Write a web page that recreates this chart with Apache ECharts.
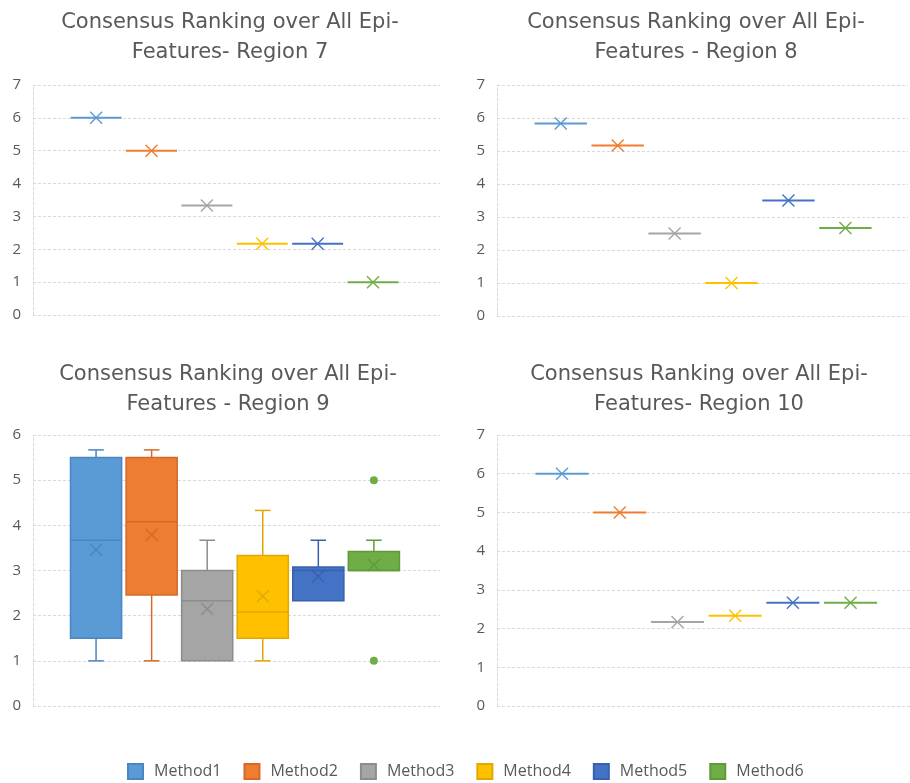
<!DOCTYPE html>
<html>
<head>
<meta charset="utf-8">
<script src="https://cdn.jsdelivr.net/npm/echarts@6/dist/echarts.min.js"></script>
<style>
  html, body { margin: 0; padding: 0; background: #fff; }
  #main { width: 910px; height: 783px; }
</style>
</head>
<body>
<div id="main"></div>
<script>
// 方法名称
var methods = ['Method1', 'Method2', 'Method3', 'Method4', 'Method5', 'Method6']
// 每种方法的位置序号
var methodIndex = [0, 1, 2, 3, 4, 5]

// Region 7 / 8 / 10: one value per method
var region7Rank = [6, 5, 3.33, 2.17, 2.17, 1]
var region8Rank = [5.83, 5.17, 2.5, 1, 3.5, 2.67]
var region10Rank = [6, 5, 2.17, 2.33, 2.67, 2.67]

// Region 9: box plot statistics
var region9Min = [1, 1, 1, 1, 2.33, 3]
var region9Q1 = [1.5, 2.46, 1, 1.5, 2.33, 3]
var region9Median = [3.67, 4.08, 2.33, 2.08, 3, 3]
var region9Q3 = [5.5, 5.5, 3, 3.33, 3.08, 3.42]
var region9Max = [5.67, 5.67, 3.67, 4.33, 3.67, 3.67]
var region9Mean = [3.46, 3.79, 2.15, 2.43, 2.87, 3.12]
// outliers: method index, value
var region9OutlierMethod = [5, 5]
var region9OutlierValue = [5, 1]

// 颜色
var fills = ['#5B9BD5', '#ED7D31', '#A5A5A5', '#FFC000', '#4472C4', '#70AD47']
var edges = ['#4A86C2', '#D4692A', '#8C8C8C', '#E0A900', '#3860AE', '#5D9A3B']
var textColor = '#595959'
var gridColor = '#D9D9D9'

// rows for the custom series: [x, min, q1, median, q3, max, mean]
function flatRows (vals) {
  return methodIndex.map(function (i) {
    var v = vals[i]
    return [i, v, v, v, v, v, v]
  })
}
var region9Rows = methodIndex.map(function (i) {
  return [i, region9Min[i], region9Q1[i], region9Median[i], region9Q3[i], region9Max[i], region9Mean[i]]
})
var region9Outliers = region9OutlierMethod.map(function (m, k) {
  return { value: [m, region9OutlierValue[k]], itemStyle: { color: fills[m], opacity: 1 } }
})

function renderBox (params, api) {
  var i = api.value(0)
  var unit = api.size([1, 0])[0]
  var half = unit * 0.46
  var cap = unit * 0.14
  var pMin = api.coord([i, api.value(1)])
  var pQ1 = api.coord([i, api.value(2)])
  var pMed = api.coord([i, api.value(3)])
  var pQ3 = api.coord([i, api.value(4)])
  var pMax = api.coord([i, api.value(5)])
  var pMean = api.coord([i, api.value(6)])
  var x = pMed[0]
  var flat = api.value(5) === api.value(1)
  var lineColor = flat ? fills[i] : edges[i]
  var children = []
  var lineStyle = { stroke: lineColor, lineWidth: 1.5 }
  if (api.value(5) > api.value(4)) {
    children.push({ type: 'line', shape: { x1: x, y1: pQ3[1], x2: x, y2: pMax[1] }, style: lineStyle })
    children.push({ type: 'line', shape: { x1: x - cap, y1: pMax[1], x2: x + cap, y2: pMax[1] }, style: lineStyle })
  }
  if (api.value(2) > api.value(1)) {
    children.push({ type: 'line', shape: { x1: x, y1: pQ1[1], x2: x, y2: pMin[1] }, style: lineStyle })
    children.push({ type: 'line', shape: { x1: x - cap, y1: pMin[1], x2: x + cap, y2: pMin[1] }, style: lineStyle })
  }
  if (api.value(4) > api.value(2)) {
    children.push({
      type: 'rect',
      shape: { x: x - half, y: pQ3[1], width: half * 2, height: pQ1[1] - pQ3[1] },
      style: { fill: fills[i], stroke: edges[i], lineWidth: 1.5 }
    })
  }
  children.push({
    type: 'line',
    shape: { x1: x - half, y1: pMed[1], x2: x + half, y2: pMed[1] },
    style: { stroke: lineColor, lineWidth: flat ? 2 : 1.5 }
  })
  // mean marker (X)
  var s = 6
  var markStyle = { stroke: lineColor, lineWidth: 1.4 }
  children.push({ type: 'line', shape: { x1: pMean[0] - s, y1: pMean[1] - s, x2: pMean[0] + s, y2: pMean[1] + s }, style: markStyle })
  children.push({ type: 'line', shape: { x1: pMean[0] - s, y1: pMean[1] + s, x2: pMean[0] + s, y2: pMean[1] - s }, style: markStyle })
  return { type: 'group', children: children }
}

var panels = [
  { title: 'Consensus Ranking over All Epi-\nFeatures- Region 7', cx: 225, ty: 3, grid: { left: 33, top: 85, width: 407, height: 230 }, xmin: -1.14, xmax: 6.21, ymax: 7, rows: flatRows(region7Rank) },
  { title: 'Consensus Ranking over All Epi-\nFeatures - Region 8', cx: 691, ty: 3, grid: { left: 497, top: 85, width: 411, height: 231 }, xmin: -1.12, xmax: 6.10, ymax: 7, rows: flatRows(region8Rank) },
  { title: 'Consensus Ranking over All Epi-\nFeatures - Region 9', cx: 223, ty: 355, grid: { left: 33, top: 435, width: 407, height: 271 }, xmin: -1.135, xmax: 6.19, ymax: 6, rows: region9Rows },
  { title: 'Consensus Ranking over All Epi-\nFeatures- Region 10', cx: 694, ty: 355, grid: { left: 497, top: 435, width: 413, height: 271 }, xmin: -1.127, xmax: 6.03, ymax: 7, rows: flatRows(region10Rank) }
]

var option = {
  backgroundColor: '#fff',
  animation: false,
  textStyle: { fontFamily: 'Open Sans' },
  title: panels.map(function (p) {
    return {
      text: p.title,
      left: p.cx,
      top: p.ty,
      textAlign: 'center',
      textStyle: { fontSize: 21, fontWeight: 'normal', color: textColor, lineHeight: 30, fontFamily: 'DejaVu Sans' }
    }
  }),
  legend: {
    data: methods,
    left: 122,
    top: 758,
    icon: 'rect',
    itemWidth: 15,
    itemHeight: 15,
    itemGap: 22,
    textStyle: { fontSize: 16, color: textColor, fontFamily: 'Open Sans', padding: [0, 0, 0, 6] }
  },
  grid: panels.map(function (p) { return p.grid }),
  xAxis: panels.map(function (p, k) {
    return { type: 'value', gridIndex: k, min: p.xmin, max: p.xmax, show: false }
  }),
  yAxis: panels.map(function (p, k) {
    return {
      type: 'value',
      gridIndex: k,
      min: 0,
      max: p.ymax,
      interval: 1,
      axisLine: { show: true, onZero: false, lineStyle: { color: gridColor, type: [3, 2] } },
      axisTick: { show: false },
      axisLabel: { color: textColor, fontSize: 15, margin: 12 },
      splitLine: { lineStyle: { color: gridColor, type: [3, 2] } }
    }
  }),
  series: []
}

panels.forEach(function (p, k) {
  option.series.push({
    type: 'custom',
    name: 'panel' + k,
    xAxisIndex: k,
    yAxisIndex: k,
    renderItem: renderBox,
    encode: { x: 0, y: [1, 2, 3, 4, 5, 6] },
    data: p.rows,
    z: 3
  })
})

option.series.push({
  type: 'scatter',
  name: 'outliers',
  xAxisIndex: 2,
  yAxisIndex: 2,
  symbolSize: 8,
  itemStyle: { opacity: 1 },
  data: region9Outliers,
  z: 4
})

// legend entries
methods.forEach(function (m, i) {
  option.series.push({
    type: 'scatter',
    name: m,
    xAxisIndex: 0,
    yAxisIndex: 0,
    data: [],
    itemStyle: { color: fills[i], borderColor: edges[i], borderWidth: 1, opacity: 1 }
  })
})

var myChart = echarts.init(document.getElementById('main'))
myChart.setOption(option)
</script>
</body>
</html>
